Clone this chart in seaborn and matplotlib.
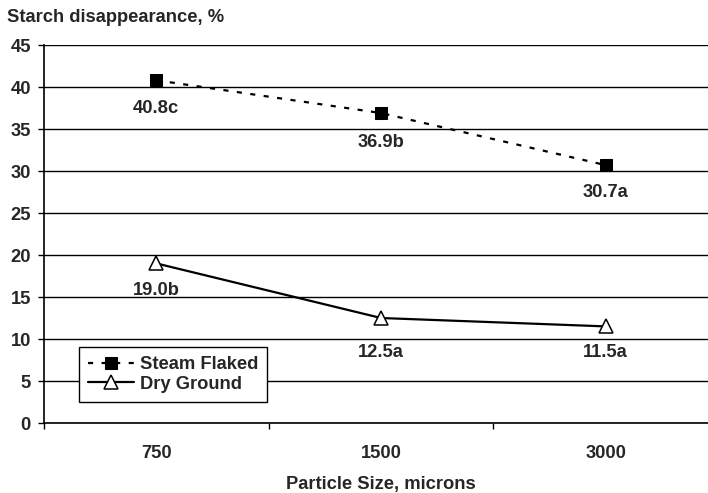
import matplotlib
matplotlib.use('Agg')
import matplotlib.pyplot as plt
import seaborn as sns
import pandas as pd

# data
particle_sizes = ["750", "1500", "3000"]
steam_flaked = [40.8, 36.9, 30.7]
dry_ground = [19.0, 12.5, 11.5]
steam_labels = ["40.8c", "36.9b", "30.7a"]
dry_labels = ["19.0b", "12.5a", "11.5a"]
y_ticks = [0, 5, 10, 15, 20, 25, 30, 35, 40, 45]

# label offsets below each marker, in points
steam_offsets = [-20, -21, -19.5]
dry_offsets = [-19.5, -24.5, -19]

sns.set_style("white")
plt.rcParams['font.family'] = ['Liberation Sans', 'DejaVu Sans']
plt.rcParams['font.weight'] = 'bold'

FS = 13.2

df = pd.DataFrame({
    "size": particle_sizes * 2,
    "value": steam_flaked + dry_ground,
    "series": ["Steam Flaked"] * 3 + ["Dry Ground"] * 3,
})

fig = plt.figure(figsize=(7.08, 4.93), dpi=100)
ax = fig.add_axes([44 / 708, 1 - 423 / 493, 674 / 708, 378 / 493])

sns.lineplot(data=df[df.series == "Steam Flaked"], x="size", y="value", ax=ax,
             color="black", linewidth=1.6, linestyle=(0, (2.3, 3.8)),
             marker="s", markersize=8.5, markeredgecolor="black",
             markerfacecolor="black", label="Steam Flaked")
sns.lineplot(data=df[df.series == "Dry Ground"], x="size", y="value", ax=ax,
             color="black", linewidth=1.6, marker="^", markersize=9.5,
             markeredgecolor="black", markerfacecolor="white",
             markeredgewidth=1.1, label="Dry Ground")

for i, (v, t, o) in enumerate(zip(steam_flaked, steam_labels, steam_offsets)):
    ax.annotate(t, (i, v), xytext=(0, o), textcoords="offset points",
                ha="center", va="center", fontsize=FS, fontweight="bold")
for i, (v, t, o) in enumerate(zip(dry_ground, dry_labels, dry_offsets)):
    ax.annotate(t, (i, v), xytext=(0, o), textcoords="offset points",
                ha="center", va="center", fontsize=FS, fontweight="bold")

ax.set_xlim(-0.5, 2.5)
ax.set_ylim(0, 45)
ax.set_yticks(y_ticks)
ax.set_yticklabels([str(t) for t in y_ticks], fontsize=FS, fontweight="bold")
ax.yaxis.grid(True, color="black", linewidth=1)
ax.tick_params(axis="y", which="major", left=True, length=4.5, width=1,
               color="black", pad=5)

# category boundaries get tick marks, category centres get the labels
ax.set_xticks([-0.5, 0.5, 1.5, 2.5])
ax.set_xticklabels([])
ax.set_xticks([0, 1, 2], minor=True)
ax.set_xticklabels(particle_sizes, minor=True, fontsize=FS, fontweight="bold")
ax.tick_params(axis="x", which="major", bottom=True, length=4.5, width=1,
               color="black")
ax.tick_params(axis="x", which="minor", bottom=True, length=0, pad=16)

for side in ["top", "right"]:
    ax.spines[side].set_visible(False)
for side in ["left", "bottom"]:
    ax.spines[side].set_color("black")
    ax.spines[side].set_linewidth(1.2)

ax.set_ylabel("")
ax.set_xlabel("Particle Size, microns", fontsize=FS, fontweight="bold")
ax.xaxis.set_label_coords(0.5, (423 - 485) / 378)
ax.xaxis.label.set_va("center")

fig.text(7 / 708, 1 - 18 / 493, "Starch disappearance, %", ha="left",
         va="center", fontsize=FS, fontweight="bold")

leg = ax.legend(loc="upper left", bbox_to_anchor=(79 / 708, 1 - 347 / 493),
                bbox_transform=fig.transFigure, borderaxespad=0,
                fancybox=False, framealpha=1, edgecolor="black",
                prop={"size": FS, "weight": "bold"}, handlelength=2.5,
                handletextpad=0.3, borderpad=0.5, labelspacing=0.15,
                numpoints=1)
leg.get_frame().set_linewidth(1)

fig.savefig("out.png", dpi=100)
